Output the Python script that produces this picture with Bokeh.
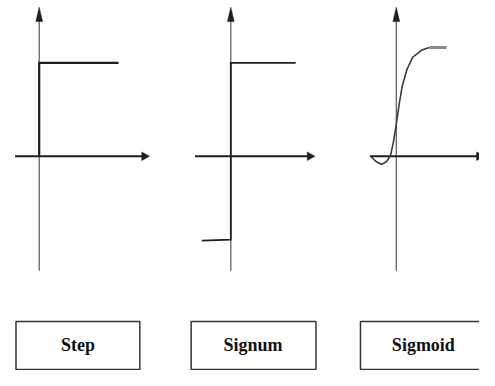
from bokeh.plotting import figure
from bokeh.models import Range1d
from bokeh.core.properties import value
from bokeh.embed import file_html
from bokeh.resources import INLINE

# ---- data (reference-pixel coordinate space; y grows downward) ----
panel_labels = ["Step", "Signum", "Sigmoid"]
origin_x = [40, 238, 409]          # where each y-axis crosses the x-axis
origin_y = 162.5                   # shared x-axis height
xaxis_left = [15, 201, 382]
xaxis_right = [154, 325, 500]
yaxis_top = 7
yaxis_bottom = 282

# Step function
step_x = [40, 40, 122]
step_y = [162, 65, 65]

# Signum function
signum_x = [208, 238, 238, 305]
signum_y = [250.5, 249.5, 65, 65]

# Sigmoid-like curve (with the small dip before zero)
sigmoid_x = [382, 388, 394, 399, 403, 406, 409, 412, 415, 420, 426, 435, 443]
sigmoid_y = [162, 168, 171, 168, 162, 148, 129, 108, 90, 72, 59, 52, 49]
plateau_x = [443, 461]
plateau_y = [49, 49]

# Label boxes
box_left = [16, 197, 372]
box_right = [144, 326, 520]
label_x = [80, 261, 437]
box_top = 335
box_bottom = 385
label_y = 359

W, H = 479, 370
p = figure(width=W, height=H, x_range=Range1d(0, 495), y_range=Range1d(386, 0),
           x_axis_type=None, y_axis_type=None, toolbar_location=None,
           output_backend="svg", min_border=0, outline_line_color=None,
           background_fill_color="white", border_fill_color="white")
p.grid.visible = False

dark = "#1e1e1e"

# y axes (thin grey) and their arrow heads
p.multi_line(xs=[[x, x] for x in origin_x],
             ys=[[yaxis_bottom, yaxis_top + 8] for _ in origin_x],
             line_color="#555555", line_width=1.2)
p.patches(xs=[[x, x - 3.5, x + 3.5] for x in origin_x],
          ys=[[yaxis_top, yaxis_top + 15, yaxis_top + 15] for _ in origin_x],
          fill_color=dark, line_color=dark, line_width=0.5)

# x axes (thicker) and their arrow heads
p.multi_line(xs=[[l, r - 6] for l, r in zip(xaxis_left, xaxis_right)],
             ys=[[origin_y, origin_y] for _ in xaxis_left],
             line_color=dark, line_width=2)
p.patches(xs=[[r, r - 8, r - 8] for r in xaxis_right],
          ys=[[origin_y, origin_y - 4.5, origin_y + 4.5] for _ in xaxis_right],
          fill_color=dark, line_color=dark, line_width=0.5)

# functions
p.line(step_x, step_y, line_color=dark, line_width=2.2, line_join="miter")
p.line(signum_x, signum_y, line_color=dark, line_width=1.8, line_join="miter")
p.line(sigmoid_x, sigmoid_y, line_color="#3a3a3a", line_width=1.6)
p.line(plateau_x, plateau_y, line_color="#8a8a8a", line_width=3)

# label boxes
p.quad(left=box_left, right=box_right, top=box_top, bottom=box_bottom,
       fill_color=None, line_color="#333333", line_width=1.5)
p.text(x=label_x, y=[label_y] * 3, text=panel_labels,
       text_font=value("Liberation Serif"), text_font_style="bold",
       text_font_size="18px", text_color="#111111",
       text_align="center", text_baseline="middle")

open("out.html", "w").write(file_html(p, INLINE))
